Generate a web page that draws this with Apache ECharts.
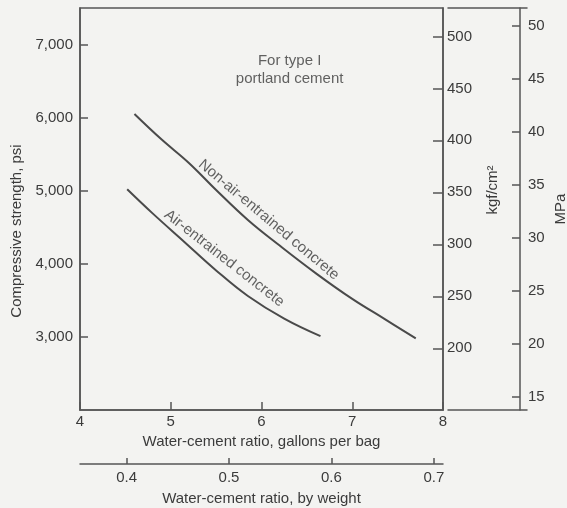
<!DOCTYPE html>
<html>
<head>
<meta charset="utf-8">
<script src="https://cdn.jsdelivr.net/npm/echarts@6/dist/echarts.min.js"></script>
<style>
  html, body { margin: 0; padding: 0; background: #f3f3f1; }
  #chart { width: 567px; height: 508px; }
</style>
</head>
<body>
<div id="chart"></div>
<script>
// ---- data ----
const galTicks = [4, 5, 6, 7, 8];
const wcTicks = [0.4, 0.5, 0.6, 0.7];
const psiTicks = [3000, 4000, 5000, 6000, 7000];
const kgfTicks = [200, 250, 300, 350, 400, 450, 500];
const mpaTicks = [15, 20, 25, 30, 35, 40, 45, 50];

const nonAirGal = [4.6, 4.9, 5.2, 5.5, 5.85, 6.2, 6.6, 7.0, 7.35, 7.7];
const nonAirPsi = [6050, 5700, 5380, 5010, 4600, 4250, 3870, 3520, 3250, 2980];
const airGal = [4.52, 4.8, 5.15, 5.5, 5.85, 6.25, 6.65];
const airPsi = [5020, 4690, 4300, 3910, 3560, 3250, 3010];

const nonAirName = 'Non-air-entrained concrete';
const airName = 'Air-entrained concrete';
const noteText = 'For type I\nportland cement';

// ---- unit conversions ----
const PSI_MIN = 2000, PSI_MAX = 7500;
const GAL_MIN = 4, GAL_MAX = 8;
const PSI_TO_KGF = 0.0703069;
const PSI_TO_MPA = 0.00689476;
const GAL_TO_WC = 8.33 / 94;

const ink = '#3b3b3b';
const lineC = '#555';
const font = 'Liberation Sans, Arial, Helvetica, sans-serif';

const chart = echarts.init(document.getElementById('chart'), null, { renderer: 'canvas' });

const axisLine = { show: true, onZero: false, lineStyle: { color: lineC, width: 1.5 } };
const txt = { color: ink, fontSize: 15, fontFamily: font };

const option = {
  backgroundColor: '#f3f3f1',
  animation: false,
  grid: [
    { left: 80, right: 124, top: 8, bottom: 98, outerBoundsMode: 'none', containLabel: false,
      show: true, borderColor: lineC, borderWidth: 1.5, backgroundColor: 'transparent' },
    { left: 448, right: 40, top: 8, bottom: 98, outerBoundsMode: 'none', containLabel: false }
  ],
  xAxis: [
    {
      type: 'value', gridIndex: 0, position: 'bottom', min: GAL_MIN, max: GAL_MAX, interval: 1,
      axisLine: axisLine, splitLine: { show: false },
      axisTick: { inside: true, length: 8, customValues: galTicks, lineStyle: { color: lineC, width: 1.5 } },
      axisLabel: Object.assign({ margin: 4, customValues: galTicks }, txt),
      name: 'Water-cement ratio, gallons per bag', nameLocation: 'middle', nameGap: 24,
      nameTextStyle: txt
    },
    {
      type: 'value', gridIndex: 0, position: 'bottom', offset: 54,
      min: GAL_MIN * GAL_TO_WC, max: GAL_MAX * GAL_TO_WC,
      axisLine: axisLine, splitLine: { show: false },
      axisTick: { inside: true, length: 6, customValues: wcTicks, lineStyle: { color: lineC, width: 1.5 } },
      axisLabel: Object.assign({ margin: 6, customValues: wcTicks, formatter: v => v.toFixed(1) }, txt),
      name: 'Water-cement ratio, by weight', nameLocation: 'middle', nameGap: 27,
      nameTextStyle: txt
    },
    {
      type: 'value', gridIndex: 1, position: 'bottom', min: 0, max: 1,
      axisLine: axisLine, axisTick: { show: false }, axisLabel: { show: false }, splitLine: { show: false }
    },
    {
      type: 'value', gridIndex: 1, position: 'top', min: 0, max: 1,
      axisLine: axisLine, axisTick: { show: false }, axisLabel: { show: false }, splitLine: { show: false }
    }
  ],
  yAxis: [
    {
      type: 'value', gridIndex: 0, position: 'left', min: PSI_MIN, max: PSI_MAX,
      axisLine: axisLine, splitLine: { show: false },
      axisTick: { inside: true, length: 8, customValues: psiTicks, lineStyle: { color: lineC, width: 1.5 } },
      axisLabel: Object.assign({ margin: 7, customValues: psiTicks, formatter: v => v.toLocaleString('en-US') }, txt),
      name: 'Compressive strength, psi', nameLocation: 'middle', nameGap: 53, nameRotate: 90,
      nameTextStyle: Object.assign({ padding: [0, 44, 0, 0] }, txt)
    },
    {
      type: 'value', gridIndex: 0, position: 'right', min: PSI_MIN * PSI_TO_KGF, max: PSI_MAX * PSI_TO_KGF,
      axisLine: axisLine, splitLine: { show: false },
      axisTick: { inside: true, length: 10, customValues: kgfTicks, lineStyle: { color: lineC, width: 1.5 } },
      axisLabel: Object.assign({ margin: 4, customValues: kgfTicks }, txt),
      name: 'kgf/cm²', nameLocation: 'middle', nameGap: 42, nameRotate: 90,
      nameTextStyle: Object.assign({ padding: [0, 0, 0, 38] }, txt)
    },
    {
      type: 'value', gridIndex: 1, position: 'right', offset: -7,
      min: PSI_MIN * PSI_TO_MPA, max: PSI_MAX * PSI_TO_MPA,
      axisLine: axisLine, splitLine: { show: false },
      axisTick: { inside: true, length: 8, customValues: mpaTicks, lineStyle: { color: lineC, width: 1.5 } },
      axisLabel: Object.assign({ margin: 8, customValues: mpaTicks }, txt),
      name: 'MPa', nameLocation: 'middle', nameGap: 33, nameRotate: 90,
      nameTextStyle: txt
    }
  ],
  series: [
    {
      type: 'line', xAxisIndex: 0, yAxisIndex: 0, smooth: 0.4, showSymbol: false, silent: true,
      lineStyle: { color: '#4a4a4a', width: 2 },
      data: nonAirGal.map((g, i) => [g, nonAirPsi[i]])
    },
    {
      type: 'line', xAxisIndex: 0, yAxisIndex: 0, smooth: 0.4, showSymbol: false, silent: true,
      lineStyle: { color: '#4a4a4a', width: 2 },
      data: airGal.map((g, i) => [g, airPsi[i]])
    },
    {
      type: 'scatter', xAxisIndex: 0, yAxisIndex: 0, symbolSize: 0, silent: true,
      data: [
        { value: [6.08, 4600], label: { formatter: nonAirName, rotate: -40 } },
        { value: [5.59, 4075], label: { formatter: airName, rotate: -38 } },
        { value: [6.31, 6654], label: { formatter: noteText, rotate: 0, lineHeight: 18 } }
      ],
      label: Object.assign({ show: true, position: 'inside', align: 'center', verticalAlign: 'middle' }, txt)
    },
    { type: 'line', xAxisIndex: 2, yAxisIndex: 2, data: [] }
  ]
};
chart.setOption(option);
</script>
</body>
</html>
